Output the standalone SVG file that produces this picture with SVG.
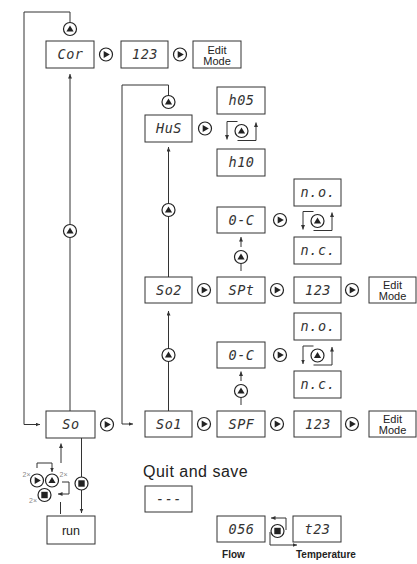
<svg xmlns="http://www.w3.org/2000/svg" width="417" height="564" viewBox="0 0 417 564">
<style>
.box{fill:#fff;stroke:#333;stroke-width:1}
.ln{fill:none;stroke:#333;stroke-width:1}
.seg{font-family:"DejaVu Sans Mono",monospace;font-size:13.5px;fill:#333;text-anchor:middle;letter-spacing:0.6px;font-style:oblique}
.lbl{font-family:"Liberation Sans",Arial,sans-serif;fill:#222;text-anchor:middle}
.st{text-anchor:start}
.em{font-size:11px}
.two{font-family:"Liberation Sans",Arial,sans-serif;font-size:7px;fill:#888}
.end{text-anchor:end}
.ring{fill:#fff;stroke:#222;stroke-width:1.2}
.in{fill:#222}
</style>
<defs>
<marker id="ah" markerWidth="6" markerHeight="6" refX="4.5" refY="2" orient="auto" markerUnits="userSpaceOnUse"><path d="M0,0 L4.5,2 L0,4Z" fill="#333"/></marker>
<g id="bR"><circle class="ring" r="6.5"/><path class="in" d="M-2.3,-3.6 L3.8,0 L-2.3,3.6Z"/></g>
<g id="bU"><circle class="ring" r="6.5"/><path class="in" d="M-3.6,2.4 L0,-3.6 L3.6,2.4Z"/></g>
<g id="bS"><circle class="ring" r="6.5"/><rect class="in" x="-3.2" y="-3.2" width="6.4" height="6.4"/></g>
</defs>

<g id="connectors">
<path class="ln" d="M70,22.5 V12 H24 V424.5 H40" marker-end="url(#ah)"/>
<path class="ln" d="M70,411 V237.5"/>
<path class="ln" d="M70,224.5 V74" marker-end="url(#ah)"/>
<path class="ln" d="M168.5,95.5 V85 H122 V424 H133" marker-end="url(#ah)"/>
<path class="ln" d="M168.5,203.5 V147" marker-end="url(#ah)"/>
<path class="ln" d="M168.5,216.5 V277"/>
<path class="ln" d="M168.5,348.5 V311" marker-end="url(#ah)"/>
<path class="ln" d="M168.5,361.5 V411"/>
<path class="ln" d="M241,247 V237" marker-end="url(#ah)"/>
<path class="ln" d="M241,263.5 V271"/>
<path class="ln" d="M241,381 V371.5" marker-end="url(#ah)"/>
<path class="ln" d="M241,397.5 V405"/>
<path class="ln" d="M237.5,121.5 H227 V139.5" marker-end="url(#ah)"/>
<path class="ln" d="M237.5,140.5 H256 V122.5" marker-end="url(#ah)"/>
<path class="ln" d="M313.5,211.5 H303 V229.5" marker-end="url(#ah)"/>
<path class="ln" d="M313.5,230.5 H332 V212.5" marker-end="url(#ah)"/>
<path class="ln" d="M313.5,346 H303 V364" marker-end="url(#ah)"/>
<path class="ln" d="M313.5,365 H332 V347" marker-end="url(#ah)"/>
<path class="ln" d="M81.5,438 V477"/>
<path class="ln" d="M81.5,490 V513" marker-end="url(#ah)"/>
<path class="ln" d="M60.5,514 V502"/>
<path class="ln" d="M61,463 V443.5" marker-end="url(#ah)"/>
<path class="ln" d="M37,468 V463 H52 V472" marker-end="url(#ah)"/>
<path class="ln" d="M62,482 H69 V494 H58" marker-end="url(#ah)"/>
<path class="ln" d="M286,530 V518 H271" marker-end="url(#ah)"/>
<path class="ln" d="M270,532 V545 H297" marker-end="url(#ah)"/>
</g>

<g id="buttons">
<use href="#bR" x="106" y="54.5"/>
<use href="#bR" x="180" y="54.5"/>
<use href="#bR" x="205" y="128.5"/>
<use href="#bR" x="280" y="220"/>
<use href="#bR" x="204" y="290"/>
<use href="#bR" x="277" y="290"/>
<use href="#bR" x="352" y="290"/>
<use href="#bR" x="280" y="355"/>
<use href="#bR" x="107" y="424.5"/>
<use href="#bR" x="204" y="424"/>
<use href="#bR" x="277" y="424"/>
<use href="#bR" x="352" y="424"/>
<use href="#bU" x="70" y="29"/>
<use href="#bU" x="70" y="231"/>
<use href="#bU" x="168.5" y="102"/>
<use href="#bU" x="168.5" y="210"/>
<use href="#bU" x="168.5" y="355"/>
<use href="#bU" x="241" y="257"/>
<use href="#bU" x="241" y="391"/>
<use href="#bU" x="241.5" y="131"/>
<use href="#bU" x="317.5" y="221"/>
<use href="#bU" x="317.5" y="355.5"/>
<use href="#bS" x="81.5" y="483.5"/>
<use href="#bR" x="37" y="480.5"/>
<use href="#bU" x="52" y="480.5"/>
<use href="#bS" x="44.5" y="495"/>
<use href="#bS" x="277.5" y="531"/>
<text class="two end" x="30.5" y="477">2×</text>
<text class="two" x="59.5" y="477">2×</text>
<text class="two end" x="37" y="503">2×</text>
</g>

<g id="n-cor"><rect class="box" x="46" y="41" width="48" height="27"/><text class="seg" x="70.5" y="59">Cor</text></g>
<g id="n-123a"><rect class="box" x="121" y="41" width="47" height="27"/><text class="seg" x="145" y="59">123</text></g>
<g id="n-edit-a"><rect class="box" x="193" y="41" width="48" height="27"/><text class="lbl em" x="217" y="53.5">Edit</text><text class="lbl em" x="217" y="64.5">Mode</text></g>
<g id="n-hus"><rect class="box" x="145" y="115" width="47" height="27"/><text class="seg" x="169" y="133">HuS</text></g>
<g id="n-h05"><rect class="box" x="217" y="87" width="48" height="27"/><text class="seg" x="241.5" y="105">h05</text></g>
<g id="n-h10"><rect class="box" x="217" y="149" width="48" height="27"/><text class="seg" x="241.5" y="167">h10</text></g>
<g id="n-no-a"><rect class="box" x="294" y="179" width="47" height="27"/><text class="seg" x="318" y="197">n.o.</text></g>
<g id="n-oc-a"><rect class="box" x="217" y="207" width="48" height="26"/><text class="seg" x="241.5" y="224.5">0-C</text></g>
<g id="n-nc-a"><rect class="box" x="294" y="237" width="47" height="27"/><text class="seg" x="318" y="255">n.c.</text></g>
<g id="n-so2"><rect class="box" x="145" y="277" width="47" height="26"/><text class="seg" x="169" y="294.5">So2</text></g>
<g id="n-spt"><rect class="box" x="217" y="277" width="48" height="26"/><text class="seg" x="241.5" y="294.5">SPt</text></g>
<g id="n-123b"><rect class="box" x="294" y="277" width="47" height="26"/><text class="seg" x="318" y="294.5">123</text></g>
<g id="n-edit-b"><rect class="box" x="369" y="277" width="47" height="26"/><text class="lbl em" x="392.5" y="288.5">Edit</text><text class="lbl em" x="392.5" y="299.5">Mode</text></g>
<g id="n-no-b"><rect class="box" x="294" y="313" width="47" height="27"/><text class="seg" x="318" y="331">n.o.</text></g>
<g id="n-oc-b"><rect class="box" x="217" y="342" width="48" height="26"/><text class="seg" x="241.5" y="359.5">0-C</text></g>
<g id="n-nc-b"><rect class="box" x="294" y="371" width="47" height="27"/><text class="seg" x="318" y="389">n.c.</text></g>
<g id="n-so"><rect class="box" x="46" y="411" width="49" height="27"/><text class="seg" x="71" y="429">So</text></g>
<g id="n-so1"><rect class="box" x="145" y="411" width="47" height="26"/><text class="seg" x="169" y="428.5">So1</text></g>
<g id="n-spf"><rect class="box" x="217" y="411" width="48" height="26"/><text class="seg" x="241.5" y="428.5">SPF</text></g>
<g id="n-123c"><rect class="box" x="294" y="411" width="47" height="26"/><text class="seg" x="318" y="428.5">123</text></g>
<g id="n-edit-c"><rect class="box" x="369" y="411" width="47" height="26"/><text class="lbl em" x="392.5" y="422.5">Edit</text><text class="lbl em" x="392.5" y="433.5">Mode</text></g>
<g id="n-run"><rect class="box" x="47" y="516" width="48" height="28"/><text class="lbl" x="71" y="534.5" font-size="12.5">run</text></g>
<g id="n-quit"><text class="lbl st" x="143" y="477" font-size="16" letter-spacing="0.5">Quit and save</text><rect class="box" x="145" y="486" width="47" height="26"/><text class="seg" x="169" y="503.5">---</text></g>
<g id="n-flow"><rect class="box" x="217" y="516" width="48" height="26"/><text class="seg" x="241.5" y="533.5">056</text><text class="lbl" x="233.5" y="557.5" font-size="10" font-weight="bold">Flow</text></g>
<g id="n-temp"><rect class="box" x="293" y="516" width="48" height="26"/><text class="seg" x="317.5" y="533.5">t23</text><text class="lbl st" x="296" y="557.5" font-size="10" font-weight="bold">Temperature</text></g>
</svg>
